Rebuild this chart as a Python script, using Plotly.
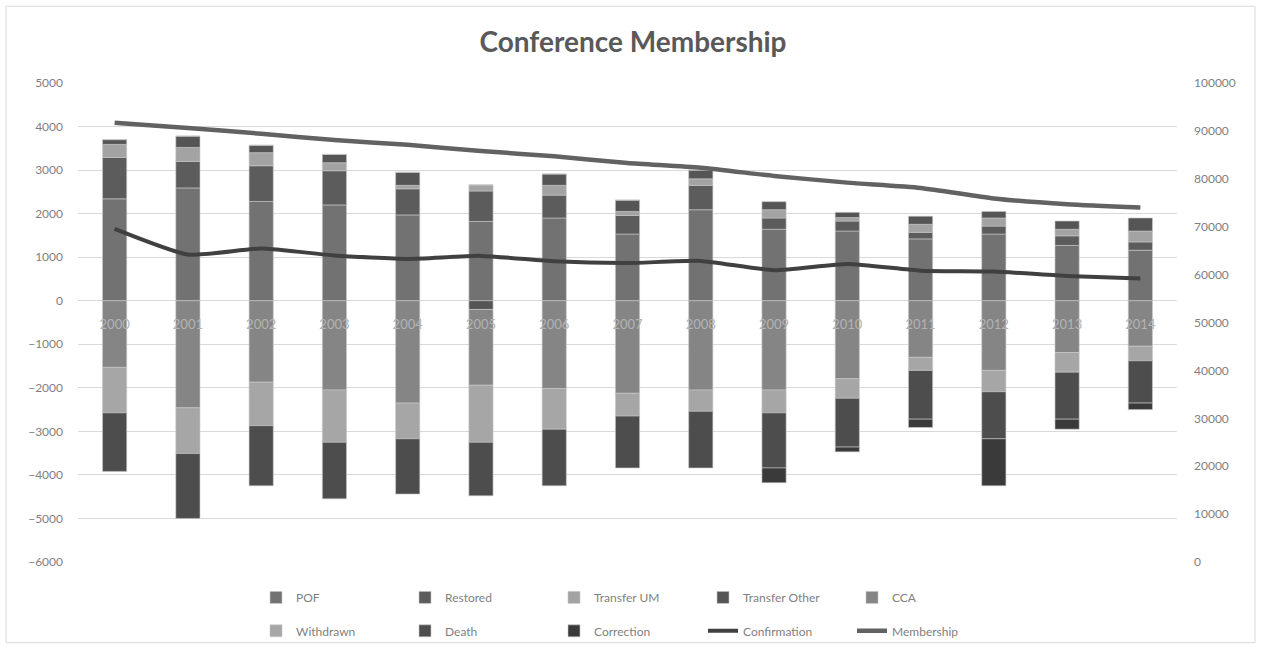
import plotly.graph_objects as go

years = [str(y) for y in range(2000, 2015)]

pof = [2340, 2590, 2280, 2200, 1970, 1820, 1900, 1530, 2090, 1640, 1600, 1420, 1530, 1270, 1160]
restored = [950, 610, 820, 785, 600, 700, 525, 430, 560, 260, 230, 150, 185, 220, 190]
transfer_um = [300, 320, 300, 185, 80, 140, 225, 90, 150, 190, 80, 185, 185, 150, 250]
transfer_other = [110, 260, 170, 190, 300, -200, 260, 260, 200, 185, 120, 185, 150, 190, 300]
cca = [-1530, -2460, -1870, -2050, -2350, -1740, -2015, -2125, -2050, -2050, -1790, -1300, -1600, -1190, -1045]
withdrawn = [-1045, -1050, -1000, -1200, -820, -1310, -935, -525, -490, -525, -450, -300, -490, -450, -335]
death = [-1345, -1490, -1380, -1300, -1270, -1230, -1300, -1190, -1300, -1265, -1120, -1120, -1080, -1080, -970]
correction = [0, 0, 0, 0, 0, 0, 0, 0, 0, -340, -110, -190, -1080, -230, -150]
confirmation = [1650, 1060, 1200, 1040, 960, 1030, 905, 865, 915, 700, 845, 690, 670, 570, 510]
membership = [91700, 90600, 89400, 88100, 87100, 85800, 84700, 83300, 82300, 80600, 79200, 78100, 75900, 74700, 74000]

bar_series = [
    ("POF", pof, "#727272", "legend"),
    ("Restored", restored, "#5c5c5c", "legend"),
    ("Transfer UM", transfer_um, "#a3a3a3", "legend"),
    ("Transfer Other", transfer_other, "#555555", "legend"),
    ("CCA", cca, "#858585", "legend"),
    ("Withdrawn", withdrawn, "#a6a6a6", "legend2"),
    ("Death", death, "#4d4d4d", "legend2"),
    ("Correction", correction, "#3a3a3a", "legend2"),
]

FONT = "Lato"
TXT = "#7f7f7f"

fig = go.Figure()
for name, vals, col, lg in bar_series:
    fig.add_trace(go.Bar(
        x=years, y=vals, name=name, legend=lg,
        marker=dict(color=col, line=dict(color="#c8c8c8", width=0.6)),
        yaxis="y",
    ))

fig.add_trace(go.Scatter(
    x=years, y=confirmation, name="Confirmation", legend="legend2",
    mode="lines", line=dict(color="#404040", width=4, shape="spline", smoothing=0.5),
    yaxis="y",
))
fig.add_trace(go.Scatter(
    x=years, y=membership, name="Membership", legend="legend2",
    mode="lines", line=dict(color="#626262", width=4.5, shape="spline", smoothing=0.6),
    yaxis="y2",
))

legend_common = dict(
    orientation="h", xanchor="left", yanchor="middle",
    font=dict(family=FONT, size=12, color=TXT),
    entrywidth=104, entrywidthmode="pixels",
    bgcolor="rgba(0,0,0,0)", traceorder="normal",
    itemclick=False, itemdoubleclick=False,
)

fig.update_layout(
    width=1261, height=657,
    margin=dict(l=78, r=84, t=83, b=87),
    paper_bgcolor="white", plot_bgcolor="white",
    barmode="relative", bargap=0.67,
    font=dict(family=FONT, size=12, color=TXT),
    title=dict(text="<b>Conference Membership</b>", x=0.502, xref="container",
               y=1 - 42 / 657, yref="container", yanchor="middle", xanchor="center",
               font=dict(family=FONT, size=28, color="#595959")),
    xaxis=dict(type="category", anchor="free", position=6 / 11, layer="above traces",
               showgrid=False, showline=False, zeroline=False,
               ticks="outside", ticklen=12, tickcolor="rgba(0,0,0,0)",
               tickfont=dict(family=FONT, size=13, color="#b3b3b3")),
    yaxis=dict(range=[-6000, 5000], dtick=1000, showgrid=True, gridcolor="#d9d9d9",
               gridwidth=1, zeroline=False, showline=False, ticklabelstandoff=14,
               tickformat="d",
               tickfont=dict(family=FONT, size=12, color=TXT)),
    yaxis2=dict(range=[0, 100000], dtick=10000, overlaying="y", side="right",
                showgrid=False, zeroline=False, showline=False, ticklabelstandoff=16,
                tickformat="d",
                tickfont=dict(family=FONT, size=12, color=TXT)),
    legend=dict(x=(256 - 78) / 1099, y=(570 - 606) / 487, **legend_common),
    legend2=dict(x=(256 - 78) / 1099, y=(570 - 640) / 487, **legend_common),
    showlegend=True,
)

fig.add_shape(type="rect", xref="paper", yref="paper",
              x0=(6 - 78) / 1099, x1=(1255 - 78) / 1099,
              y0=(570 - 652) / 487, y1=(570 - 5) / 487,
              line=dict(color="#d9d9d9", width=1), fillcolor="rgba(0,0,0,0)", layer="below")

fig.write_html("out.html", config={"displayModeBar": False},
               post_script="document.body.style.margin='0';document.body.style.overflow='hidden';")
